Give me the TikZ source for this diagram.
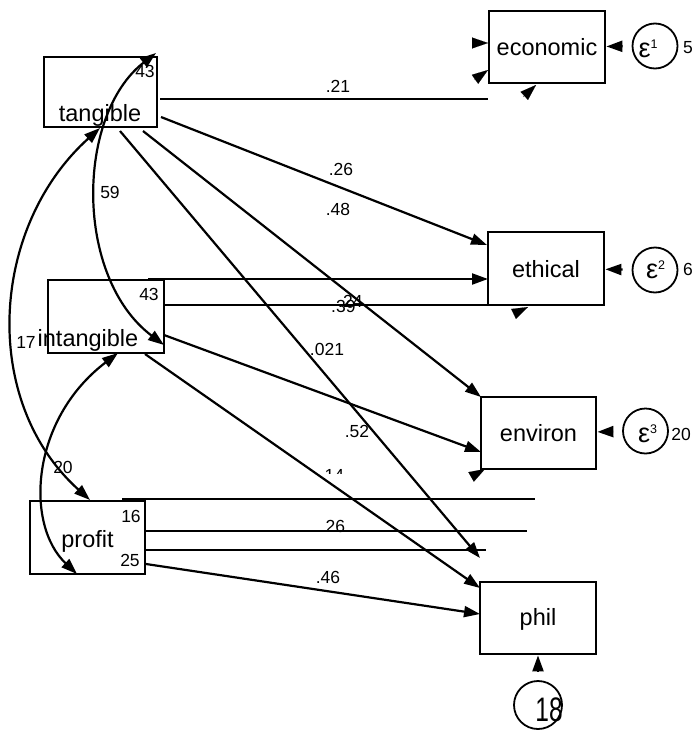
\documentclass[tikz,border=0pt]{standalone}
\usepackage{fontspec}
\setmainfont{Liberation Sans}
\usetikzlibrary{arrows.meta}
\begin{document}
\begin{tikzpicture}[x=1pt,y=-1pt,
  varbox/.style={draw, line width=2.8pt, inner sep=0pt},
  errc/.style={draw, circle, line width=1.8pt, inner sep=0pt, minimum size=45pt},
  regarrow/.style={line width=2.2pt, -{Triangle[length=16pt,width=11pt]}},
  covarrow/.style={line width=2.2pt, {Triangle[length=16pt,width=11pt]}-{Triangle[length=16pt,width=11pt]}},
  bare/.style={line width=2.2pt},
  headonly/.style={line width=0.1pt, -{Triangle[length=16pt,width=11pt]}},
  vname/.style={font=\fontsize{23.5}{28}\selectfont, inner sep=0pt, anchor=base},
  coef/.style={font=\fontsize{17.5}{21}\selectfont, inner sep=0pt, anchor=base},
  epsl/.style={font=\fontsize{27}{30}\selectfont, inner sep=0pt, anchor=base}
]
\useasboundingbox (0,0) rectangle (696,731);

% observed variables
\node[varbox, minimum width=113pt, minimum height=70pt] (tangible)   at (100.5,92)  {};
\node[varbox, minimum width=116pt, minimum height=73pt] (intangible) at (106,316.5) {};
\node[varbox, minimum width=115pt, minimum height=73pt] (profit)     at (87.5,537.5) {};
\node[varbox, minimum width=116pt, minimum height=72pt] (economic)   at (547,47)    {};
\node[varbox, minimum width=116pt, minimum height=73pt] (ethical)    at (546,268.5) {};
\node[varbox, minimum width=115pt, minimum height=72pt] (environ)    at (538.5,433) {};
\node[varbox, minimum width=116pt, minimum height=72pt] (phil)       at (538,618)   {};

\node[vname] (tangibleT)   at (100,121) {tangible};
\node[vname] (intangibleT) at (88,346)  {intangible};
\node[vname] (profitT)     at (87.5,547) {profit};
\node[vname] (economicT)   at (547,55)  {economic};
\node[vname] (ethicalT)    at (546,277) {ethical};
\node[vname] (environT)    at (538.5,441) {environ};
\node[vname] (philT)       at (538,625) {phil};

% error terms
\node[errc] (e1) at (655,46) {};
\node[errc] (e2) at (655,270) {};
\node[errc] (e3) at (645.5,431) {};
\node[errc, minimum size=48pt] (e4) at (538,705) {};

\node[epsl] (e1T) at (648,57)  {ε\raisebox{9pt}{\fontsize{12.5}{14}\selectfont 1}};
\node[epsl] (e2T) at (655.5,278) {ε\raisebox{9pt}{\fontsize{12.5}{14}\selectfont 2}};
\node[epsl] (e3T) at (647.5,442) {ε\raisebox{9pt}{\fontsize{12.5}{14}\selectfont 3}};
\node[inner sep=0pt, anchor=base] (e4T) at (549,721) {\fontsize{34}{40}\selectfont\scalebox{0.72}[1]{18}};

\node[coef] (e1v) at (688,53)  {5};
\node[coef] (e2v) at (688,275) {6};
\node[coef] (e3v) at (681,440) {20};

\draw[regarrow, shorten <=9pt] (e1) -- (economic);
\draw[regarrow, shorten <=9pt] (e2) -- (ethical);
\draw[regarrow, shorten <=9pt] (e3) -- (environ);
\draw[regarrow, shorten <=9pt] (e4) -- (phil);

% connector end points
\coordinate (tE)   at (160,99);   \coordinate (econW) at (488,99);
\coordinate (tEth) at (161,117);  \coordinate (ethW1) at (487,245);
\coordinate (tEnv) at (143,131);  \coordinate (envW1) at (481,397);
\coordinate (tPh)  at (120,131);  \coordinate (phX)   at (480,558);
\coordinate (iEth) at (148,279);  \coordinate (ethW2) at (488,279);
\coordinate (iB)   at (164,305);  \coordinate (ethB)  at (488,305);
\coordinate (iEnv) at (164,335);  \coordinate (envW2) at (481,452);
\coordinate (iPh)  at (145,354);  \coordinate (phW1)  at (480,588);
\coordinate (pA)   at (122,499);  \coordinate (pAe)   at (535,499);
\coordinate (pB)   at (146,531);  \coordinate (pBe)   at (527,531);
\coordinate (pC)   at (146,550);  \coordinate (pCe)   at (486,550);
\coordinate (pPh)  at (146,564);  \coordinate (phW2)  at (480,614);

% regression paths
\draw[bare]     (tE) -- (econW);
\draw[regarrow] (tEth) -- (ethW1);
\draw[regarrow] (tEnv) -- (envW1);
\draw[regarrow] (tPh) -- (phX);
\draw[regarrow] (iEth) -- (ethW2);
\draw[bare]     (iB) -- (ethB);
\draw[regarrow] (iEnv) -- (envW2);
\draw[regarrow] (iPh) -- (phW1);
\draw[bare]     (pA) -- (pAe);
\draw[bare]     (pB) -- (pBe);
\draw[bare]     (pC) -- (pCe);
\draw[regarrow] (pPh) -- (phW2);

% loose arrow heads
\coordinate (h1a) at (472,43);    \coordinate (h1b) at (488,43);
\coordinate (h2a) at (474,80);    \coordinate (h2b) at (488,70);
\coordinate (h3a) at (523,97);    \coordinate (h3b) at (536,85);
\coordinate (h4a) at (513.5,314); \coordinate (h4b) at (528,307);
\coordinate (h5a) at (471,477);   \coordinate (h5b) at (485,469);
\draw[headonly] (h1a) -- (h1b);
\draw[headonly] (h2a) -- (h2b);
\draw[headonly] (h3a) -- (h3b);
\draw[headonly] (h4a) -- (h4b);
\draw[headonly] (h5a) -- (h5b);

% covariances
\coordinate (prTop) at (90,500);  \coordinate (tgBot) at (100,128);
\coordinate (prBot) at (77,574);  \coordinate (inBot) at (118,353);
\coordinate (tgTop) at (156,53);  \coordinate (inRt)  at (164,345);
\draw[covarrow] (prTop) .. controls (-20,401) and (-10,227) .. (tgBot);
\draw[covarrow] (prBot) .. controls (25,525) and (30,420) .. (inBot);
\draw[covarrow] (tgTop) .. controls (76,115) and (74,277) .. (inRt);

% estimates
\node[coef] (c43a) at (145,77)  {43};
\node[coef] (c43b) at (149,300) {43};
\node[coef] (c59)  at (110,198) {59};
\node[coef] (c17)  at (26,348)  {17};
\node[coef] (c20)  at (63,473)  {20};
\node[coef] (c16)  at (131,522) {16};
\node[coef] (c25)  at (130,566) {25};
\node[coef] (c21)  at (338,92)  {.21};
\node[coef] (c26a) at (341,175) {.26};
\node[coef] (c48)  at (338,215) {.48};
\node[coef, anchor=base west] (c39) at (331,312) {.39};
\node[coef, anchor=base west] (c24) at (338,307) {.24};
\node[coef] (c021) at (327,355) {.021};
\node[coef] (c52)  at (357,437) {.52};
\begin{scope}
  \clip (300,455) rectangle (380,473);
  \node[coef] (c14) at (332,481) {.14};
\end{scope}
\node[coef] (c26b) at (333,532) {.26};
\node[coef] (c46)  at (328,583) {.46};
\end{tikzpicture}
\end{document}
